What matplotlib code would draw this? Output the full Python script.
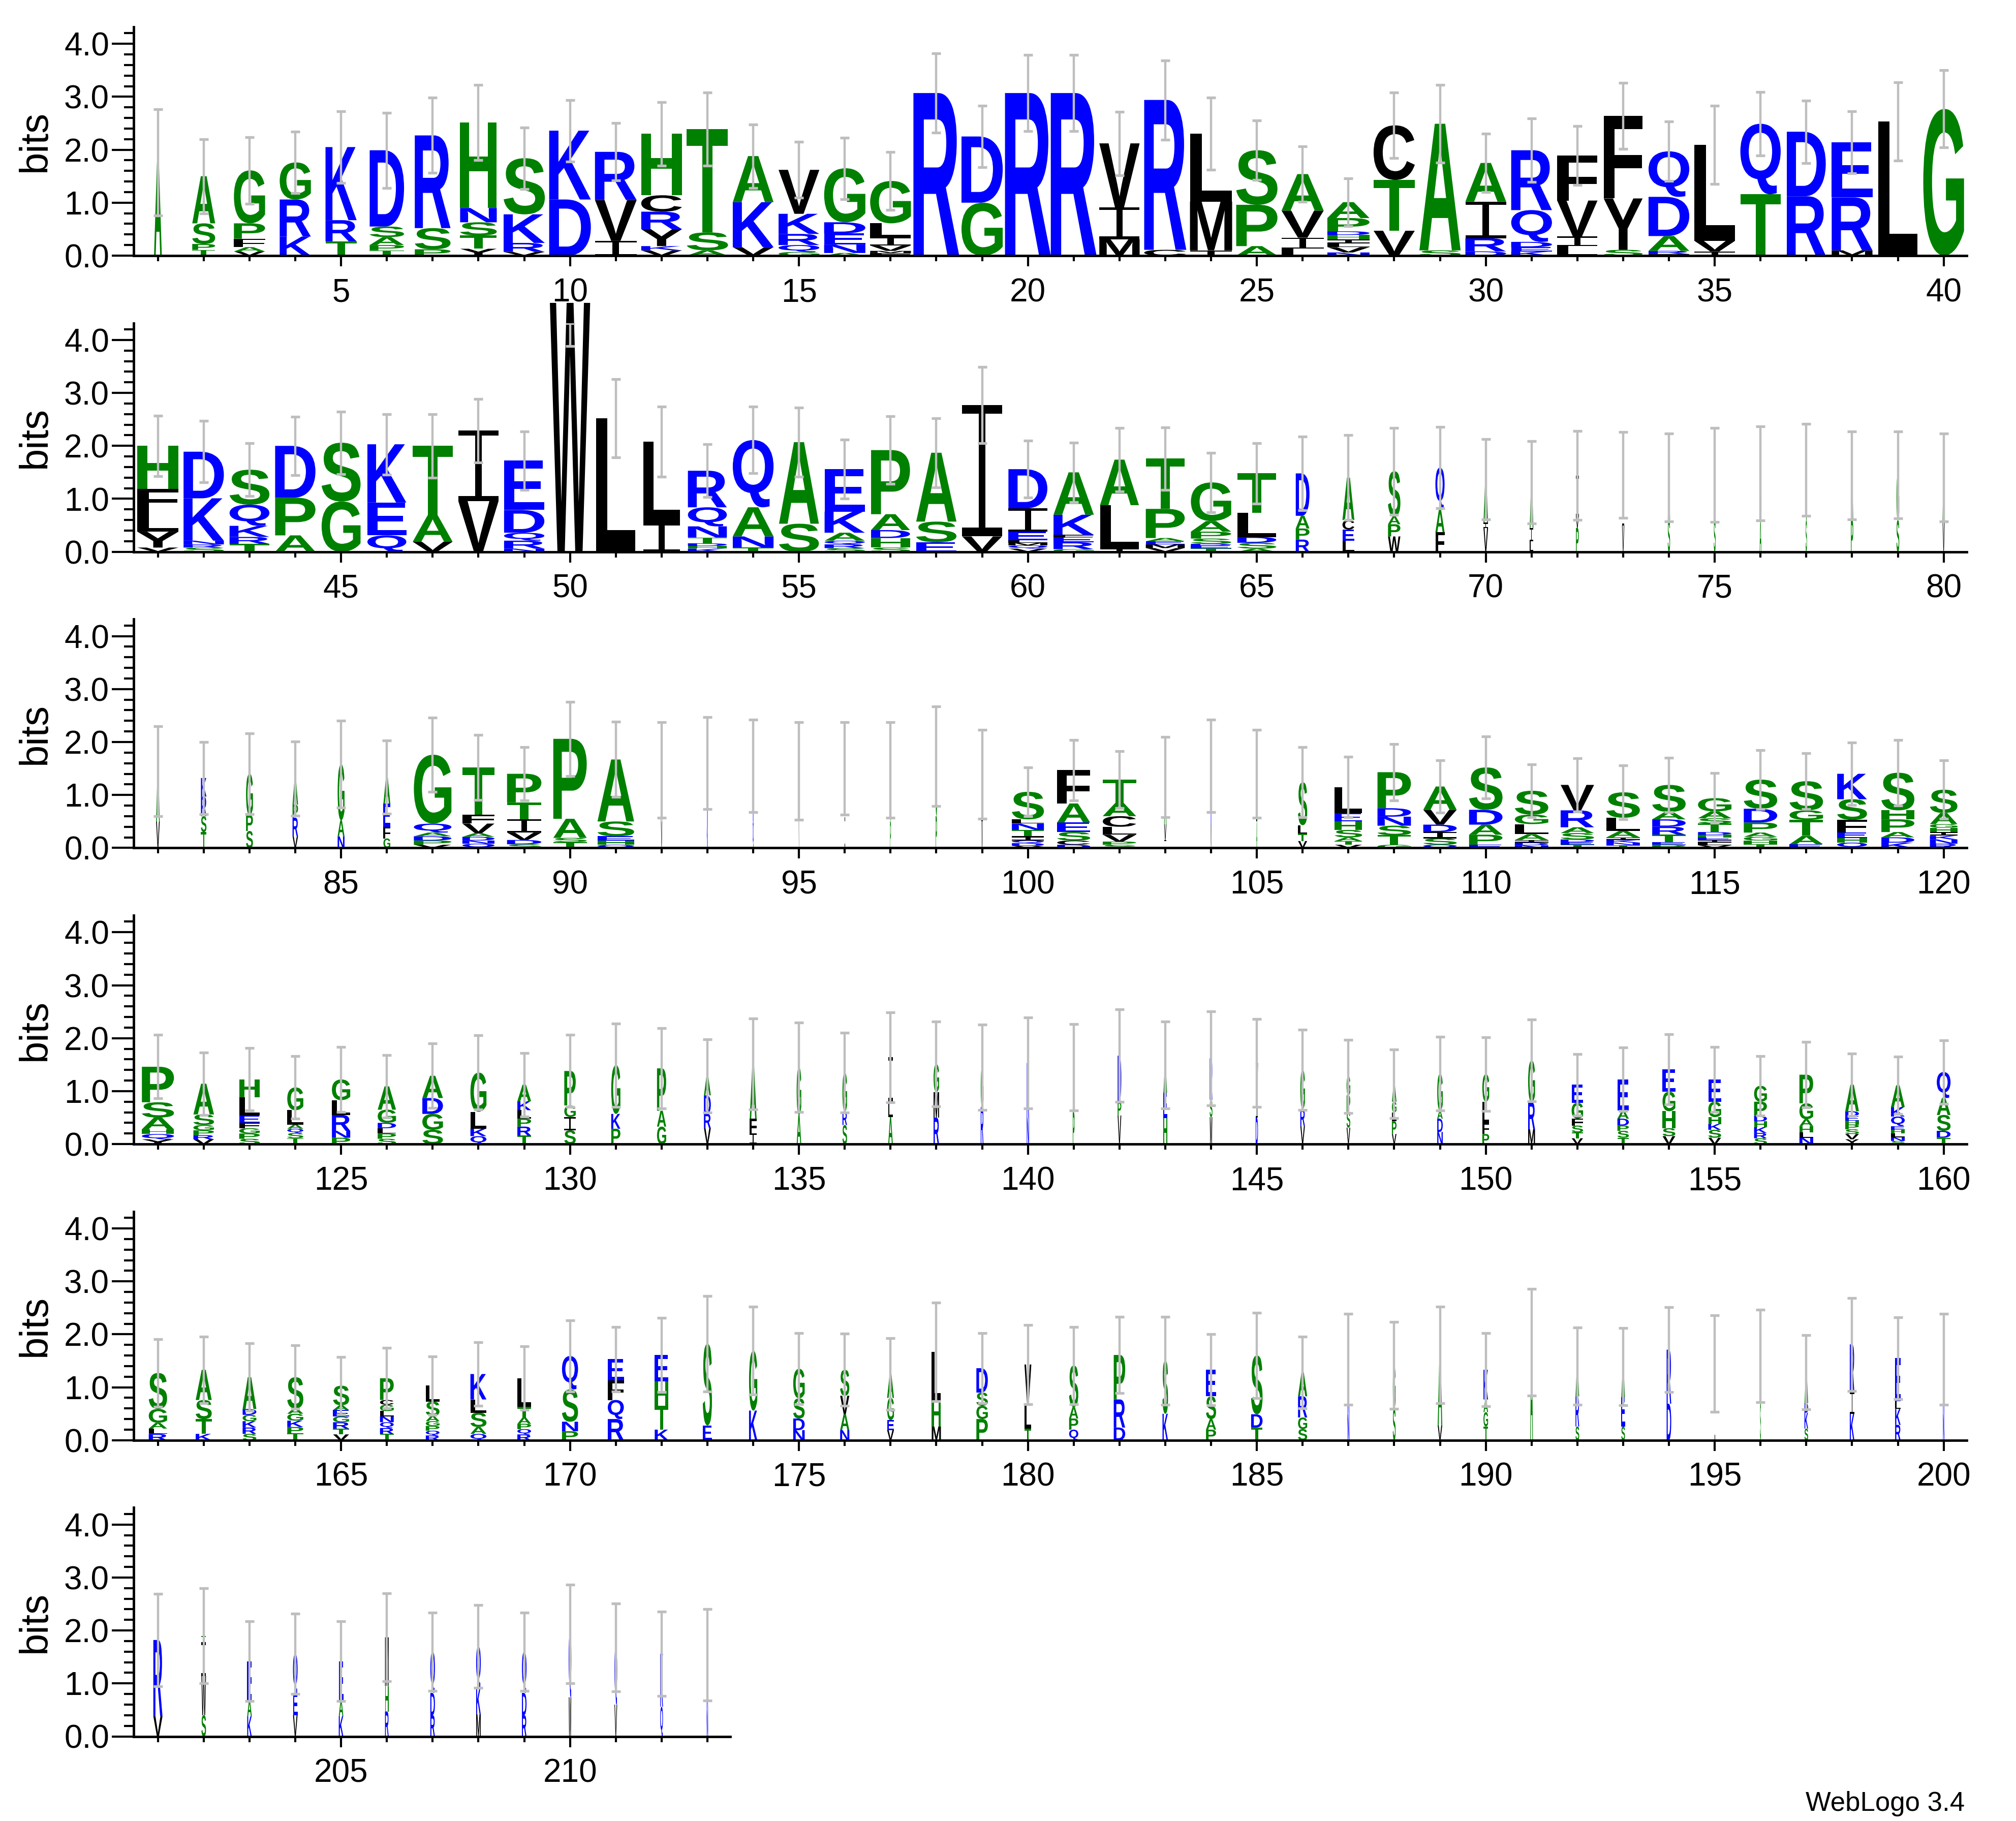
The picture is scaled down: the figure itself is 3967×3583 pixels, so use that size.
import matplotlib
matplotlib.use("Agg")
import matplotlib.pyplot as plt
from matplotlib.textpath import TextPath
from matplotlib.patches import PathPatch, Polygon
from matplotlib.font_manager import FontProperties
from matplotlib.transforms import Affine2D
from matplotlib.ticker import MultipleLocator, FixedLocator

# ---- data: letter stacks (bottom -> top, "letter+bits"), stack widths, error half-widths ----
first_pos = [1, 41, 81, 121, 161, 201]

stacks_1 = [
    "A1.76", "T.11 P.11 S.39 A.89", "V.08 A.08 F.16 P.29 G1.0", "K.36 R.70 G.70",
    "T.27 R.40 K1.38", "T.1 P.1 A.15 S.2 D1.44", "P.12 S.4 R1.75", "Y.13 T.25 S.25 N.27 H1.61",
    "V.07 R.17 K.54 S1.06", "D1.06 K1.30", "I.28 V.77 R.91", "V.1 K.08 Y.32 R.33 C.31 H1.16",
    "A.1 S.34 T1.95", "V.16 K.85 A.87", "G.07 Q.13 R.21 K.38 V.83", "A.05 N.16 E.21 D.21 G1.02",
    "F.05 M.04 V.1 I.16 L.26 G.80", "R3.07", "G1.0 D1.25", "R3.07",
    "R3.07", "M.31 I.6 V1.21", "C.11 R2.83", "I.1 M.92 L1.28",
    "A.18 P.78 S1.03", "L.13 I.21 V.51 A.69", "N.06 V.1 L.07 I.08 H.08 D.07 P.25 A.3", "V.47 T.96 C1.03",
    "S.1 A2.39", "D.08 R.25 I.69 A.73", "K.08 E.08 D.1 Q.6 R1.13", "L.18 I.18 V.68 F.85",
    "S.11 Y.97 F1.56", "I.03 R.06 A.28 D.74 Q.86", "I.08 V.2 L1.81", "T1.16 Q1.33",
    "R1.12 D1.22", "M.1 R1.0 E1.04", "L2.53", "G2.77",
]
width_1 = [.17, .5, .68, .68, .68, .75, .78, .8, .9, .91, .91, .89, .9, .89, .89, .9, .89, 1, .9, 1,
           1, .88, .92, .92, .9, .92, .92, .9, .9, .89, .89, .88, .85, .89, .89, .88, .85, .89, .85, .89]
err_1 = [1.0, .7, .63, .58, .68, .71, .71, .71, .58, .58, .54, .6, .69, .6, .53, .58, .55, .75, .58, .72,
         .72, .6, .75, .68, .56, .52, .45, .62, .73, .55, .6, .56, .62, .56, .74, .6, .59, .59, .74, .73]

stacks_2 = [
    "V.08 Y.3 L.4 F.41 H.81", "S.08 R.06 N.07 K.8 D.88", "T.15 R.13 K.21 Q.4 S.66", "A.31 P.71 D.98",
    "G.95 S1.11", "Q.31 E.62 K1.1", "V.19 A.5 T1.31", "V.96 I1.33",
    "N.06 R.15 Q.15 D.43 E.93", "W4.7", "L2.52", "I.54 L1.54",
    "K.06 H.05 D.05 T.11 N.21 Q.36 R.69", "T.08 N.21 A.55 Q1.27", "S.53 A1.54", "S.07 R.07 Q.07 A.15 K.4 E.8",
    "S.08 H.18 D.15 A.3 P1.21", "E.18 S.39 A1.3", "V.29 I2.48", "V.06 Q.06 M.05 L.05 E.16 I.44 D.74",
    "G.05 R.13 E.1 F.04 K.38 A.8", "I.06 L.82 A.86", "V.07 M.07 E.06 A.06 P.55 T.95", "T.06 E.06 D.03 S.1 P.13 A.2 G.73",
    "A.06 S.11 D.11 L.46 T.74", "R.23 P.21 A.24 D.8", "L.21 E.21 C.18 A.8", "W.29 P.23 A.15 S.85",
    "F.37 A.42 Q.8", "V.45 I.1 A.82", "L.2 I.25 A.86", "P.45 V.2 I.79",
    "V.5 I.35 T.6", "S.6 A.8", "S.6 G.85", "A.6 G.88",
    "S.6 T.95", "P.6 A.84", "S.6 G.85", "V.6 A.8",
]
width_2 = [.9, .88, .87, .88, .85, .85, .87, .88, .88, .88, .85, .8, .85, .89, .87, .88, .85, .88, .87, .85,
           .88, .85, .85, .88, .85, .3, .26, .27, .2, .1, .08, .06, .05, .05, .04, .04, .03, .05, .06, .05]
err_2 = [.57, .58, .5, .55, .59, .57, .6, .6, .55, .82, .74, .66, .5, .63, .65, .56, .64, .65, .72, .54,
         .56, .6, .59, .56, .57, .7, .8, .82, .77, .76, .78, .84, .81, .83, .89, .89, .87, .83, .82, .83]

stacks_3 = [
    "V.5 A.95", "T.3 S.3 R.37 K.35", "S.32 P.3 G.78", "V.22 R.35 P.25 A.49",
    "N.22 A.3 G1.06", "G.18 F.22 E.44 A.5", "V.06 P.08 D.08 A.07 Q.17 G1.3", "Q.08 N.06 D.07 A.07 V.18 F.17 T.89",
    "S.07 D.08 V.14 I.25 T.32 P.54", "T.11 S.08 A.36 P1.51", "Q.06 H.08 E.08 S.28 A1.17", "V.5 A.97",
    "K.5 R1.1", "Q.5 R1.05", "V.5 I.95", "L.5 I1.0",
    "P.5 G.97", "P.6 G1.13", "V.5 I.89", "V.04 D.05 Q.05 I.08 T.12 N.12 L.08 S.52",
    "D.06 C.08 S.16 E.18 A.36 F.63", "S.06 P.06 V.13 L.15 C.2 A.25 T.44", "I.15 V.3 A.89", "V.45 R1.1",
    "A.5 I.9", "V.13 T.14 L.16 S.81", "V.06 T.07 A.07 S.14 H.16 E.16 L.49", "G.06 T.18 S.18 N.17 D.16 P.68",
    "Q.06 S.12 I.12 D.14 V.28 A.44", "E.06 P.19 A.19 D.28 S.8", "N.05 D.05 I.05 A.11 L.19 G.18 S.45", "T.06 E.05 D.05 S.12 A.11 R.32 V.48",
    "T.05 N.05 K.05 I.05 A.12 L.25 S.48", "P.06 E.05 T.14 R.15 D.14 A.14 S.51", "V.05 L.05 I.05 E.05 H.05 D.05 T.16 S.1 A.13 G.25", "T.07 H.07 G.07 A.08 P.19 D.26 S.55",
    "E.07 A.16 T.3 G.18 S.55", "Q.1 H.09 E.1 F.24 S.39 K.48", "K.1 D.1 A.1 P.24 H.17 S.71", "R.08 N.08 K.07 I.07 H.08 G.07 A.21 S.44",
]
width_3 = [.08, .12, .15, .12, .15, .15, .82, .7, .75, .73, .8, .03, .02, .02, .01, .01, .02, .03, .03, .7,
           .72, .73, .05, .02, .02, .2, .6, .73, .73, .73, .73, .73, .73, .73, .73, .73, .73, .65, .72, .6]
err_3 = [.85, .68, .76, .7, .82, .69, .7, .61, .5, .7, .71, .9, .87, .87, .92, .87, .9, .94, .84, .46,
         .57, .54, .76, .87, .83, .66, .57, .53, .49, .59, .5, .5, .51, .51, .47, .56, .53, .59, .62, .55]

stacks_4 = [
    "Y.09 Q.1 H.09 A.22 S.29 P.67", "V.09 R.08 P.09 G.1 S.2 A.58", "S.1 P.1 G.1 F.1 E.14 L.34 H.34", "T.11 S.1 Q.08 A.08 L.27 G.43",
    "P.12 N.13 R.3 L.28 G.39", "S.1 P.1 L.1 D.1 G.25 A.44", "S.27 G.3 D.3 A.42", "Q.15 K.14 L.32 G.74",
    "T.16 R.17 P.15 L.16 K.17 A.31", "S.26 I.25 G.22 P.65", "P.29 K.28 G.92", "G.33 A.3 P.8",
    "V.3 R.27 D.35 A.37", "I.2 F.28 A1.03", "A.55 G.9", "S.36 R.25 G.74",
    "A.51 L.3 I.83", "R.5 M.48 G.53", "R.7 G.75", "N.5 K1.03",
    "P.6 A.85", "V.54 P.26 D.87", "H.49 E.48 A.52", "W.51 S.33 R.78",
    "D.5 I.2 V.83", "V.34 R.32 G.74", "V.31 S.3 P.31 G.36", "V.19 P.24 L.17 G.2 A.34",
    "N.23 D.25 A.15 G.7", "P.19 F.21 L.4 G.52", "M.28 R.51 G.79", "V.11 T.11 S.13 F.13 G.3 E.34",
    "T.12 S.13 P.1 D.13 A.15 E.59", "V.15 S.15 H.32 G.37 E.42", "V.12 S.15 K.11 H.13 G.29 E.42", "S.11 R.1 K.11 H.11 D.1 P.27 G.3",
    "N.12 L.1 H.12 A.13 G.3 P.54", "Y.09 V.1 S.09 P.09 H.07 E.09 D.09 A.5", "S.06 N.07 L.07 H.07 E.07 Q.18 K.18 A.41", "T.12 D.13 S.3 A.32 Q.49",
]
width_4 = [.7, .45, .45, .35, .4, .4, .45, .35, .3, .25, .2, .2, .15, .15, .1, .1, .1, .12, .06, .05,
           .04, .08, .08, .06, .05, .1, .08, .1, .12, .15, .15, .25, .25, .28, .28, .28, .3, .3, .3, .3]
err_4 = [.6, .59, .59, .59, .61, .59, .61, .7, .6, .68, .79, .76, .69, .86, .84, .75, .85, .8, .81, .86,
         .82, .87, .82, .89, .83, .76, .69, .65, .7, .7, .77, .58, .6, .66, .61, .56, .62, .59, .54, .6]

stacks_5 = [
    "R.12 L.1 A.11 G.26 S.68", "K.12 T.28 S.36 A.57", "S.12 R.12 K.12 G.12 D.11 A.6", "T.13 P.12 K.12 G.13 A.1 S.59",
    "V.11 T.11 R.12 G.11 E.12 A.09 S.37", "T.12 R.11 Q.11 N.11 L.1 G.12 C.09 P.41", "R.09 Q.09 P.09 G.09 A.1 S.27 L.3", "Q.12 A.13 S.27 L.25 K.48",
    "R.11 Q.1 P.1 A.12 T.2 L.54", "P.17 N.18 S.61 Q.63", "R.4 Q.36 F.37 E.4", "K.2 T.45 H.46 E.5",
    "E.28 S1.54", "K.56 G1.13", "N.19 D.22 S.38 G.56", "N.19 A.3 V.35 S.49",
    "V.19 E.19 G.42 A.45", "M.26 H.48 L.93", "P.4 G.25 S.25 D.46", "T.22 L.44 V.77",
    "Q.2 P.21 A.22 S.78", "D.24 R.53 P.84", "K.5 S1.0", "P.2 A.2 S.43 E.5",
    "T.24 D.25 S1.11", "S.21 G.22 R.4 A.45", "N.5 K1.03", "S.6 G.81",
    "V.28 A1.33", "T.26 G.27 A.24 K.56", "A1.85", "S.26 R.57 A.57",
    "S.26 E.55 A.58", "D.69 R1.02", "I1.45", "S.72 I.87",
    "S.22 K.3 D.18 A.58", "K.5 I.41 R.9", "R.29 K.3 L.15 E.81", "N.5 K1.03",
]
width_5 = [.4, .35, .3, .35, .35, .3, .3, .35, .3, .35, .35, .3, .2, .18, .25, .2, .15, .2, .25, .15,
           .2, .25, .12, .22, .25, .2, .04, .06, .1, .1, .06, .08, .08, .1, .01, .02, .08, .1, .12, .03]
err_5 = [.64, .63, .64, .6, .54, .57, .55, .6, .6, .67, .61, .7, .9, .83, .67, .68, .68, .93, .66, .75,
         .73, .72, .83, .67, .81, .68, .86, .82, .91, .69, 1.01, .73, .73, .8, .91, .87, .7, .88, .77, .86]

stacks_6 = [
    "V.38 R1.44", "S.4 W.74 I.64 T.12", "K.38 A.3 E.74", "V.4 E.41 Q.75",
    "K.38 A.3 E.74", "R.47 H.48 M.92", "R.4 D.42 Q.78", "M.42 K.5 Q.78",
    "R.4 D.42 Q.78", "W.74 Q1.19", "V.6 Q1.08", "Q.56 K1.0", "N.5 R1.04",
]
width_6 = [.2, .1, .1, .1, .1, .08, .1, .1, .1, .06, .06, .06, .03]
err_6 = [.87, .9, .75, .76, .75, .83, .74, .78, .74, .93, .83, .8, .86]

rows = [
    (stacks_1, width_1, err_1), (stacks_2, width_2, err_2), (stacks_3, width_3, err_3),
    (stacks_4, width_4, err_4), (stacks_5, width_5, err_5), (stacks_6, width_6, err_6),
]

# hydrophobicity colour scheme
colors = {}
for c in "RKDENQ":
    colors[c] = "#0000ff"
for c in "SGHTAP":
    colors[c] = "#008000"
for c in "YVMCLFIW":
    colors[c] = "#000000"

plt.rcParams['font.family'] = ['Liberation Sans', 'DejaVu Sans']

sans_bold = FontProperties(family='Liberation Sans', weight='bold')
glyph_cache = {}


def glyph(ch):
    if ch not in glyph_cache:
        tp = TextPath((0, 0), ch, size=100, prop=sans_bold)
        glyph_cache[ch] = (tp, tp.get_extents())
    return glyph_cache[ch]


def draw_letter(ax, ch, x, y0, w, h):
    if ch == 'I':
        # serif "I": thin stem with bars top and bottom
        b = min(0.06 * h + 0.015, 0.3 * h)
        s = 0.16 * w
        x0, x1 = x - w / 2, x + w / 2
        pts = [(x0, y0), (x1, y0), (x1, y0 + b), (x + s / 2, y0 + b),
               (x + s / 2, y0 + h - b), (x1, y0 + h - b), (x1, y0 + h), (x0, y0 + h),
               (x0, y0 + h - b), (x - s / 2, y0 + h - b), (x - s / 2, y0 + b), (x0, y0 + b)]
        ax.add_patch(Polygon(pts, closed=True, facecolor=colors[ch], edgecolor='none',
                             lw=0, clip_on=False, zorder=2))
        return
    tp, bb = glyph(ch)
    t = (Affine2D().translate(-bb.x0, -bb.y0)
         .scale(w / bb.width, h / bb.height)
         .translate(x - w / 2, y0))
    ax.add_patch(PathPatch(t.transform_path(tp), facecolor=colors[ch],
                           edgecolor='none', lw=0, clip_on=False, zorder=2))


W_PX, H_PX = 3967, 3583
COL = 90.1
LEFT = 263
YMAX = 4.32
PX_PER_BIT = 104.2
GREY = '#bebebe'

fig = plt.figure(figsize=(W_PX / 100, H_PX / 100), dpi=100)

for r, (stacks, widths, errs) in enumerate(rows):
    start = first_pos[r]
    n_cols = 40 if r < 5 else len(stacks)
    base = 503 + r * 582.7
    ax_w = (n_cols + 0.03) * COL
    ax = fig.add_axes([LEFT / W_PX, (H_PX - base) / H_PX, ax_w / W_PX, YMAX * PX_PER_BIT / H_PX])
    ax.set_xlim(start - 0.53, start + n_cols - 0.5)
    ax.set_ylim(0, YMAX)

    for i, s in enumerate(stacks):
        x = start + i
        y = 0.0
        for tok in s.split():
            h = float(tok[1:])
            draw_letter(ax, tok[0], x, y, widths[i], h)
            y += h
        lo = max(y - errs[i], 0)
        hi = min(y + errs[i], YMAX)
        ax.plot([x, x], [lo, hi], color=GREY, lw=3.2, solid_capstyle='butt', zorder=3)
        for yy in (lo, hi):
            ax.plot([x - 0.1, x + 0.1], [yy, yy], color=GREY, lw=3.8,
                    solid_capstyle='butt', zorder=3)

    ax.spines['top'].set_visible(False)
    ax.spines['right'].set_visible(False)
    ax.spines['left'].set_linewidth(3.5)
    ax.spines['bottom'].set_linewidth(3.5)

    ax.yaxis.set_major_locator(FixedLocator([0, 1, 2, 3, 4]))
    ax.yaxis.set_minor_locator(FixedLocator([k * 0.2 for k in range(22)]))
    ax.set_yticklabels(["0.0", "1.0", "2.0", "3.0", "4.0"])
    ax.tick_params(axis='y', which='major', length=31, width=3, labelsize=46, pad=3.6)
    ax.tick_params(axis='y', which='minor', length=14, width=3)

    ax.xaxis.set_major_locator(MultipleLocator(5))
    ax.xaxis.set_minor_locator(MultipleLocator(1))
    ax.tick_params(axis='x', which='major', length=15, width=3, labelsize=46, pad=16)
    ax.tick_params(axis='x', which='minor', length=8, width=3)

    fig.text(69 / W_PX, (H_PX - (base - YMAX / 2 * PX_PER_BIT)) / H_PX, "bits",
             rotation=90, ha='center', va='center', fontsize=56)

fig.text(3866 / W_PX, (H_PX - 3563) / H_PX, "WebLogo 3.4", ha='right', va='baseline', fontsize=38)

fig.savefig("out.png", dpi=100)
